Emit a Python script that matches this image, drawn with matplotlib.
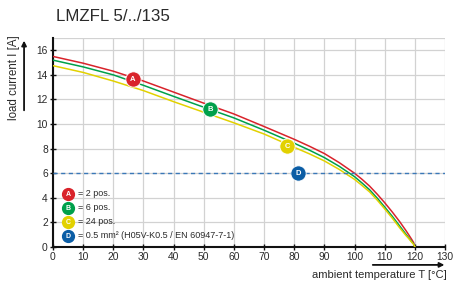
import numpy as np
import matplotlib.pyplot as plt

plt.rcParams['font.family'] = ['Liberation Sans', 'DejaVu Sans']

# ambient temperature [°C]
temp = [0, 10, 20, 30, 40, 50, 60, 70, 80, 85, 90, 95, 100, 102.5, 105, 107.5,
        110, 112.5, 115, 117, 118, 119, 119.6, 120]
# load current [A] per curve
curve_a = [15.5, 14.95, 14.3, 13.5, 12.6, 11.7, 10.82, 9.8, 8.76, 8.2, 7.6, 6.85,
           6.0, 5.5, 4.95, 4.3, 3.6, 2.85, 2.05, 1.35, 0.98, 0.6, 0.35, 0.0]
curve_b = [15.2, 14.65, 14.0, 13.15, 12.25, 11.37, 10.5, 9.5, 8.44, 7.88, 7.27, 6.55,
           5.72, 5.2, 4.65, 3.98, 3.25, 2.5, 1.7, 1.05, 0.74, 0.42, 0.24, 0.0]
curve_c = [14.75, 14.2, 13.5, 12.72, 11.82, 10.96, 10.1, 9.19, 8.11, 7.58, 7.0, 6.3,
           5.5, 5.0, 4.48, 3.82, 3.1, 2.35, 1.55, 0.95, 0.68, 0.38, 0.22, 0.0]
wire_limit = 6.0

# marker labels and their positions on the curves
marker_labels = ['A', 'B', 'C', 'D']
marker_x = [26.4, 52.1, 77.7, 81.4]
marker_y = [13.65, 11.2, 8.22, 6.0]
legend_texts = ['= 2 pos.', '= 6 pos.', '= 24 pos.',
                '= 0.5 mm² (H05V-K0.5 / EN 60947-7-1)']

xticks = list(range(0, 131, 10))
yticks = list(range(0, 17, 2))

red = '#d9232b'
green = '#00a04b'
yellow = '#e2d100'
blue = '#0b5da5'
colors = [red, green, yellow, blue]
txt_col = '#2a2a2a'

fig = plt.figure(figsize=(4.54, 2.87), dpi=100)
ax = fig.add_axes([0.1167, 0.1394, 0.8635, 0.7282])

ax.set_xlim(0, 130)
ax.set_ylim(0, 17)
ax.set_xticks(xticks)
ax.set_yticks(yticks)
ax.set_yticks([17], minor=True)
ax.grid(True, which='both', color='#d2d2d2', linewidth=0.9)
ax.set_axisbelow(True)
ax.tick_params(which='minor', length=0)
ax.tick_params(labelsize=7.4, labelcolor=txt_col, color='#111111',
               direction='inout', length=4.5, width=1)
ax.tick_params(axis='x', pad=1.5)
ax.tick_params(axis='y', pad=1.5)

for side in ['top', 'right']:
    ax.spines[side].set_visible(False)
for side in ['left', 'bottom']:
    ax.spines[side].set_linewidth(1.5)
    ax.spines[side].set_color('#111111')

ax.plot(temp, curve_a, color=red, lw=1.1, zorder=3, solid_joinstyle='round')
ax.plot(temp, curve_b, color=green, lw=1.1, zorder=3, solid_joinstyle='round')
ax.plot(temp, curve_c, color=yellow, lw=1.1, zorder=3, solid_joinstyle='round')
ax.axhline(wire_limit, color='#3a78b8', lw=1.0, ls=(0, (3, 2.5)), zorder=3)

for lab, mx, my, c in zip(marker_labels, marker_x, marker_y, colors):
    ax.plot(mx, my, 'o', ms=11, color=c, mec='white', mew=0.6, zorder=5)
    ax.text(mx, my - 0.05, lab, color='white', fontsize=5.5, fontweight='bold',
            ha='center', va='center', zorder=6)

# legend block in lower left
for i, (lab, c, txt) in enumerate(zip(marker_labels, colors, legend_texts)):
    yy = 0.254 - i * 0.067
    ax.plot(0.038, yy, 'o', transform=ax.transAxes, ms=8.5,
            color=c, zorder=5, clip_on=False)
    ax.text(0.038, yy - 0.003, lab, transform=ax.transAxes, color='white',
            fontsize=5, fontweight='bold', ha='center', va='center', zorder=6)
    ax.text(0.064, yy, txt, transform=ax.transAxes, color=txt_col,
            fontsize=6.5, ha='left', va='center', zorder=6)

fig.text(0.124, 0.944, 'LMZFL 5/../135', fontsize=12.2, color=txt_col,
         ha='left', va='center')

# axis labels with arrows
fig.text(0.031, 0.73, 'load current I [A]', rotation=90, fontsize=8.3,
         color=txt_col, ha='center', va='center')
ax.annotate('', xy=(0.053, 0.868), xytext=(0.053, 0.606),
            xycoords='figure fraction',
            arrowprops=dict(arrowstyle='-|>', color='#111111',
                            lw=1.3, mutation_scale=7))
fig.text(0.985, 0.042, 'ambient temperature T [°C]', fontsize=8,
         color=txt_col, ha='right', va='center')
ax.annotate('', xy=(0.985, 0.077), xytext=(0.815, 0.077),
            xycoords='figure fraction',
            arrowprops=dict(arrowstyle='-|>', color='#111111', lw=1.3,
                            mutation_scale=7))

fig.savefig('out.png', dpi=100)
